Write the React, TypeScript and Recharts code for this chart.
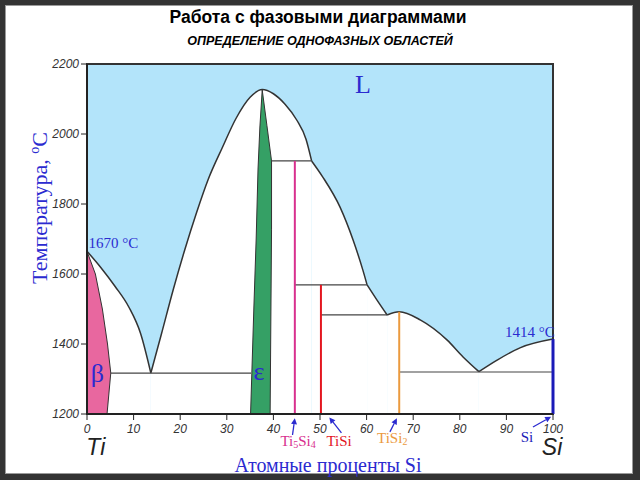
import { ComposedChart, Area, XAxis, YAxis, ReferenceArea, ReferenceLine, ReferenceDot } from 'recharts'

const xTicks = [0, 10, 20, 30, 40, 50, 60, 70, 80, 90, 100]
const yTicks = [1200, 1400, 1600, 1800, 2000, 2200]

// liquidus, split at the eutectic cusps and peritectic kinks
const liqTi = [
  { x: 0, t: 1665 }, { x: 3, t: 1618 }, { x: 6, t: 1565 }, { x: 9, t: 1505 }, { x: 11.5, t: 1430 }, { x: 13.7, t: 1317 },
]
const liqTi5Si3 = [
  { x: 13.7, t: 1317 }, { x: 16, t: 1430 }, { x: 18.5, t: 1555 }, { x: 21, t: 1670 }, { x: 23.5, t: 1775 },
  { x: 26, t: 1870 }, { x: 29, t: 1960 }, { x: 32, t: 2045 }, { x: 35, t: 2105 }, { x: 37.6, t: 2127 },
  { x: 40, t: 2115 }, { x: 42.5, t: 2085 }, { x: 45, t: 2040 }, { x: 47, t: 1985 }, { x: 48.2, t: 1923 },
]
const liqTi5Si4 = [
  { x: 48.2, t: 1923 }, { x: 50.6, t: 1877 }, { x: 54.3, t: 1791 }, { x: 57.1, t: 1697 }, { x: 59.2, t: 1611 },
  { x: 60.1, t: 1569 },
]
const liqTiSi = [{ x: 60.1, t: 1569 }, { x: 62.2, t: 1526 }, { x: 64.4, t: 1483 }]
const liqTiSi2 = [
  { x: 64.4, t: 1483 }, { x: 67, t: 1492 }, { x: 71.5, t: 1469 }, { x: 77.3, t: 1411 }, { x: 80.7, t: 1363 },
  { x: 84.1, t: 1321 },
]
const liqSi = [{ x: 84.1, t: 1321 }, { x: 88, t: 1354 }, { x: 92.9, t: 1389 }, { x: 100, t: 1414 }]

// single-phase fields
const beta = [
  { x: 0, t: 1665 }, { x: 1.8, t: 1600 }, { x: 3.3, t: 1500 }, { x: 4.4, t: 1400 }, { x: 5.1, t: 1317 }, { x: 4.3, t: 1200 },
]
const epsilon = [
  { x: 35.1, t: 1200 }, { x: 35.8, t: 1500 }, { x: 36.3, t: 1700 }, { x: 36.7, t: 1900 }, { x: 37.1, t: 2020 },
  { x: 37.6, t: 2126 }, { x: 38.6, t: 2025 }, { x: 39.6, t: 1923 }, { x: 39.6, t: 1726 }, { x: 39.3, t: 1200 },
]

// isotherms
const tieLines = [
  { x1: 5.1, x2: 35.2, t: 1317 },
  { x1: 39.6, x2: 48.2, t: 1923 },
  { x1: 44.6, x2: 60.1, t: 1569 },
  { x1: 50.2, x2: 64.4, t: 1483 },
  { x1: 67, x2: 100, t: 1320 },
]

// line compounds
const compounds = [
  { name: 'Ti5Si4', x: 44.6, top: 1923 },
  { name: 'TiSi', x: 50.2, top: 1569 },
  { name: 'TiSi2', x: 67, top: 1492 },
]
const siLine = { x: 100, top: 1414 }

const arrows = [
  { x1: 44.1, t1: 1140, x2: 44.6, t2: 1188 },
  { x1: 54.6, t1: 1146, x2: 52.0, t2: 1190 },
  { x1: 65.0, t1: 1149, x2: 66.5, t2: 1188 },
  { x1: 95.7, t1: 1163, x2: 99.6, t2: 1192 },
]

const LIQUID = '#b3e4fa'
const BLUE = '#2b2bd0'
const colors: Record<string, string> = { Ti5Si4: '#d8308e', TiSi: '#e3161f', TiSi2: '#eb9a3e', Si: '#1a1ab8' }
const serif = '"Liberation Serif", "DejaVu Serif", serif'
const sans = 'Arial, "Liberation Sans", sans-serif'

const liquidus = [liqTi, liqTi5Si3, liqTi5Si4, liqTiSi, liqTiSi2, liqSi]

const Arrow = (p: any) => {
  const { x1, y1, x2, y2, color } = p
  const a = Math.atan2(y2 - y1, x2 - x1)
  const L = 6
  const W = 3
  const bx = x2 - L * Math.cos(a)
  const by = y2 - L * Math.sin(a)
  const pts = `${x2},${y2} ${bx + W * Math.sin(a)},${by - W * Math.cos(a)} ${bx - W * Math.sin(a)},${by + W * Math.cos(a)}`
  return (
    <g>
      <line x1={x1} y1={y1} x2={bx} y2={by} stroke={color} strokeWidth={1.3} />
      <polygon points={pts} fill={color} />
    </g>
  )
}

const txt = (content: any, opts: any) => (p: any) => (
  <text x={p.cx} y={p.cy} fontFamily={opts.font || serif} fontSize={opts.size} fill={opts.color}
    textAnchor={opts.anchor || 'middle'} fontStyle={opts.italic ? 'italic' : 'normal'}>
    {content}
  </text>
)

// chemical formula with subscript digits
const formula = (parts: string[]) =>
  parts.map((s, i) =>
    /^\d+$/.test(s)
      ? <tspan key={i} fontSize={10} dy={2}>{s}</tspan>
      : <tspan key={i} dy={i > 0 ? -2 : 0}>{s}</tspan>
  )

export default function App() {
  return (
    <div style={{ position: 'fixed', left: 0, top: 0, width: 640, height: 480, background: '#fff' }}>
      <div style={{
        position: 'absolute', inset: 0, boxSizing: 'border-box', borderStyle: 'solid', borderColor: '#333',
        borderWidth: '5px 7px 6px 5px', boxShadow: 'inset 0 0 0 1px #9a9a9a',
      }} />
      <div style={{ position: 'absolute', left: 0, width: 636, top: 7, textAlign: 'center', fontFamily: sans, fontWeight: 'bold', fontSize: 17.5 }}>
        Работа с фазовыми диаграммами
      </div>
      <div style={{ position: 'absolute', left: 0, width: 640, top: 34, textAlign: 'center', fontFamily: sans, fontWeight: 'bold', fontStyle: 'italic', fontSize: 12.5 }}>
        ОПРЕДЕЛЕНИЕ ОДНОФАЗНЫХ ОБЛАСТЕЙ
      </div>
      <div style={{ position: 'absolute', left: 0, width: 656, top: 455, lineHeight: '20px', textAlign: 'center', fontFamily: serif, fontSize: 20, color: BLUE }}>
        Атомные проценты Si
      </div>
      <div style={{
        position: 'absolute', left: 40, top: 208, transform: 'translate(-50%, -50%) rotate(-90deg)', whiteSpace: 'nowrap',
        fontFamily: serif, fontSize: 22, color: BLUE,
      }}>
        Температура, <sup style={{ fontSize: 14 }}>o</sup>C
      </div>
      <div style={{ position: 'absolute', left: 0, top: 0 }}>
        <ComposedChart width={640} height={480} margin={{ top: 64, right: 87, bottom: 36, left: 47 }}>
          <ReferenceArea x1={0} x2={100} y1={1200} y2={2200} fill={LIQUID} fillOpacity={1} stroke="none" />
          {liquidus.map((d, i) => (
            <Area key={i} data={d} dataKey="t" type="monotone" baseValue={1200} fill="#fff" fillOpacity={1}
              stroke="#333" strokeWidth={1.5} isAnimationActive={false} />
          ))}
          <Area data={beta} dataKey="t" type="linear" baseValue={1200} fill="#e8679f" fillOpacity={1}
            stroke="#333" strokeWidth={1} isAnimationActive={false} />
          <Area data={epsilon} dataKey="t" type="linear" baseValue={1200} fill="#35a065" fillOpacity={1}
            stroke="#333" strokeWidth={1} isAnimationActive={false} />
          {tieLines.map((l, i) => (
            <ReferenceLine key={'t' + i} segment={[{ x: l.x1, y: l.t }, { x: l.x2, y: l.t }]} stroke="#444" strokeWidth={1.2} />
          ))}
          {compounds.map((c) => (
            <ReferenceLine key={c.name} segment={[{ x: c.x, y: 1200 }, { x: c.x, y: c.top }]} stroke={colors[c.name]} strokeWidth={2} />
          ))}
          <ReferenceArea x1={0} x2={100} y1={1200} y2={2200} fill="none" stroke="#333" strokeWidth={2} />
          <ReferenceLine segment={[{ x: siLine.x, y: 1200 }, { x: siLine.x, y: siLine.top }]} stroke={colors.Si} strokeWidth={3} />
          {arrows.map((a, i) => (
            <ReferenceLine key={'a' + i} ifOverflow="visible" segment={[{ x: a.x1, y: a.t1 }, { x: a.x2, y: a.t2 }]}
              shape={(p: any) => <Arrow {...p} color={BLUE} />} />
          ))}
          <XAxis type="number" dataKey="x" domain={[0, 100]} ticks={xTicks} interval={0} allowDataOverflow height={30}
            tickSize={6} tickMargin={4} axisLine={{ stroke: '#222', strokeWidth: 2 }} tickLine={{ stroke: '#222' }}
            tick={{ fontSize: 12, fontStyle: 'italic', fill: '#333', fontFamily: sans }} />
          <YAxis type="number" domain={[1200, 2200]} ticks={yTicks} interval={0} allowDataOverflow width={40}
            tickSize={6} tickMargin={2} axisLine={{ stroke: '#222', strokeWidth: 2 }} tickLine={{ stroke: '#222' }}
            tick={{ fontSize: 12, fontStyle: 'italic', fill: '#333', fontFamily: sans }} />
          <ReferenceDot x={59.2} y={2117} ifOverflow="visible" shape={txt('L', { size: 26, color: BLUE })} />
          <ReferenceDot x={0.3} y={1673} ifOverflow="visible" shape={txt('1670 °C', { size: 15, color: BLUE, anchor: 'start' })} />
          <ReferenceDot x={100.4} y={1420} ifOverflow="visible" shape={txt('1414 °C', { size: 15, color: BLUE, anchor: 'end' })} />
          <ReferenceDot x={2.2} y={1292} ifOverflow="visible" shape={txt('β', { size: 26, color: BLUE })} />
          <ReferenceDot x={36.9} y={1296} ifOverflow="visible" shape={txt('ε', { size: 26, color: BLUE })} />
          <ReferenceDot x={45.3} y={1108} ifOverflow="visible" shape={txt(formula(['Ti', '5', 'Si', '4']), { size: 15, color: colors.Ti5Si4 })} />
          <ReferenceDot x={54.1} y={1108} ifOverflow="visible" shape={txt('TiSi', { size: 15, color: colors.TiSi })} />
          <ReferenceDot x={65.5} y={1117} ifOverflow="visible" shape={txt(formula(['TiSi', '2']), { size: 15, color: colors.TiSi2 })} />
          <ReferenceDot x={94.4} y={1120} ifOverflow="visible" shape={txt('Si', { size: 15, color: colors.Si })} />
          <ReferenceDot x={1.9} y={1083} ifOverflow="visible" shape={txt('Ti', { size: 23, color: '#222', font: sans, italic: true })} />
          <ReferenceDot x={99.8} y={1083} ifOverflow="visible" shape={txt('Si', { size: 23, color: '#222', font: sans, italic: true })} />
        </ComposedChart>
      </div>
    </div>
  )
}
